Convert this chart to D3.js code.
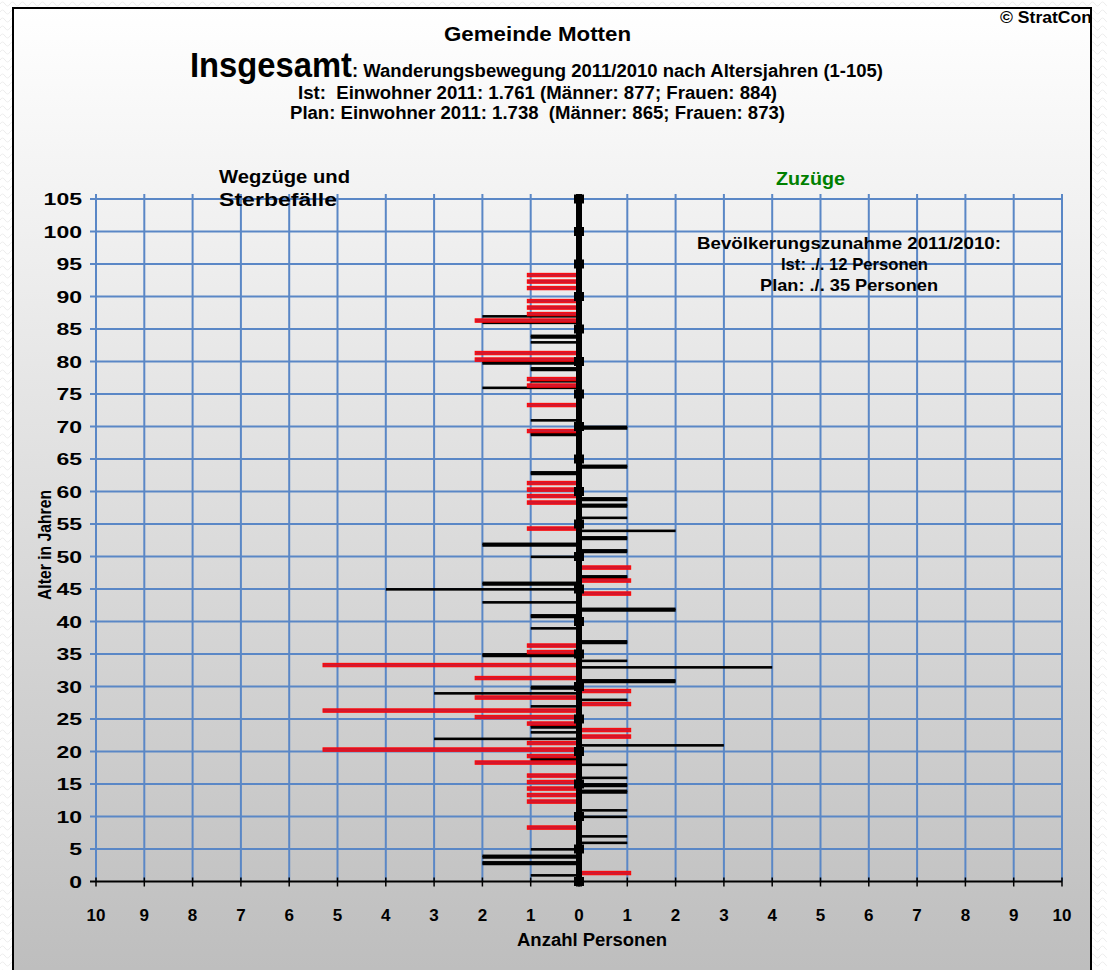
<!DOCTYPE html>
<html><head><meta charset="utf-8">
<script src="https://cdn.jsdelivr.net/npm/d3@7"></script>
<style>
html,body{margin:0;padding:0;background:#fff;}
svg{display:block;font-family:"Liberation Sans",Arial,sans-serif;font-weight:bold;}
text{white-space:pre;}
</style></head>
<body><svg id="chart" width="1107" height="970"></svg>
<script>
// ---------- DATA ----------
const ageTicks = d3.range(0, 106, 5);            // 0 … 105
const personTicks = d3.range(-10, 11, 1);        // -10 … 10 (shown as absolute values)

// Ist (black): first sub-series
const istAges   = [87,86,84,83,80,79,77,76,71,70,69,64,63,59,58,56,54,53,52,51,50,47,46,45,43,42,41,39,37,35,34,33,31,30,29,28,27,24,23,22,21,19,18,16,15,14,11,10,7,6,5,4,3,1];
const istValues = [-2,-2,-1,-1,-2,-1,-1,-2,-1,1,-1,1,-1,1,1,1,2,1,-2,1,-1,1,-2,-4,-2,2,-1,-1,1,-2,1,4,2,-1,-3,1,-1,-1,-1,-3,3,-1,1,1,1,1,1,1,1,1,-1,-2,-2,-1];
// Ist (black): second, overlapping sub-series
const ist2Ages   = [84,80,79,70,69,64,63,59,58,53,52,51,47,46,42,41,37,35,31,30,24,19,15,14,4,3];
const ist2Values = [-1,-2,-1,1,-1,1,-1,1,1,1,-2,1,1,-2,2,-1,1,-2,2,-1,-1,-1,1,1,-2,-2];
// Plan (red)
const planAges   = [93,92,91,89,88,87,86,81,80,77,76,73,69,61,60,59,58,54,48,46,44,36,35,33,31,29,28,27,26,25,24,23,22,21,20,19,18,16,15,14,13,12,8,1];
const planValues = [-1.07,-1.07,-1.07,-1.07,-1.07,-1.07,-2.15,-2.15,-2.15,-1.07,
                    -1.07,-1.07,-1.07,-1.07,-1.07,-1.07,-1.07,-1.07,1.07,1.07,
                    1.07,-1.07,-1.07,-5.3,-2.15,1.07,-2.15,1.07,-5.3,-2.15,
                    -1.07,1.07,1.07,-1.07,-5.3,-1.07,-2.15,-1.07,-1.07,-1.07,
                    -1.07,-1.07,-1.07,1.07];

const titleTop   = "Gemeinde Motten";
const titleBig   = "Insgesamt";
const titleRest  = ": Wanderungsbewegung 2011/2010 nach Altersjahren (1-105)";
const lineIst    = "Ist:  Einwohner 2011: 1.761 (Männer: 877; Frauen: 884)";
const linePlan   = "Plan: Einwohner 2011: 1.738  (Männer: 865; Frauen: 873)";
const copyright  = "© StratCon";
const leftLabel  = ["Wegzüge und", "Sterbefälle"];
const rightLabel = "Zuzüge";
const infoLines  = ["Bevölkerungszunahme 2011/2010:", "Ist: ./. 12 Personen", "Plan: ./. 35 Personen"];
const yTitle = "Alter in Jahren";
const xTitle = "Anzahl Personen";

// ---------- DRAW ----------
const svg = d3.select("#chart");
const x = d3.scaleLinear().domain([-10, 10]).range([96, 1062]);
const y = d3.scaleLinear().domain([0, 105]).range([881.5, 199]);
const gridColor = "#5a87c6";

const defs = svg.append("defs");
const grad = defs.append("linearGradient").attr("id","bg").attr("x1",0).attr("y1",0).attr("x2",0).attr("y2",1);
grad.append("stop").attr("offset","0%").attr("stop-color","#ffffff");
grad.append("stop").attr("offset","100%").attr("stop-color","#bdbdbd");

// outer faint pattern
const pat = defs.append("pattern").attr("id","wav").attr("width",10).attr("height",8).attr("patternUnits","userSpaceOnUse");
pat.append("path").attr("d","M0,4 Q2.5,0 5,4 T10,4").attr("fill","none").attr("stroke","#ececec").attr("stroke-width",1);
svg.append("rect").attr("width",1107).attr("height",970).attr("fill","url(#wav)");

svg.append("rect").attr("x",13).attr("y",8).attr("width",1078).attr("height",975)
  .attr("fill","url(#bg)").attr("stroke","#000").attr("stroke-width",2);

// grid
const g = svg.append("g");
g.selectAll(".vg").data(personTicks).join("line")
  .attr("x1", d => x(d)).attr("x2", d => x(d)).attr("y1", y(105) - 5).attr("y2", y(0))
  .attr("stroke", gridColor).attr("stroke-width", 2);
g.selectAll(".hg").data(ageTicks.filter(d => d > 0)).join("line")
  .attr("x1", x(-10) - 6).attr("x2", x(10)).attr("y1", d => y(d)).attr("y2", d => y(d))
  .attr("stroke", gridColor).attr("stroke-width", 2);

// x axis line with ticks
g.append("line").attr("x1", x(-10) - 6).attr("x2", x(10)).attr("y1", y(0)).attr("y2", y(0))
  .attr("stroke","#000").attr("stroke-width",2);
g.selectAll(".xt").data(personTicks).join("line")
  .attr("x1", d => x(d)).attr("x2", d => x(d)).attr("y1", y(0) - 4).attr("y2", y(0) + 5)
  .attr("stroke","#000").attr("stroke-width",1.5);

// bars: Ist
const bars = svg.append("g");
const ist = istAges.map((a,i) => ({a, v: istValues[i]}));
const ist2 = ist2Ages.map((a,i) => ({a, v: ist2Values[i]}));
const plan = planAges.map((a,i) => ({a, v: planValues[i]}));

bars.selectAll(".i1").data(ist).join("rect")
  .attr("x", d => Math.min(x(0), x(d.v))).attr("width", d => Math.abs(x(d.v) - x(0)))
  .attr("y", d => y(d.a - 0.1) - 1.6).attr("height", 2.6).attr("fill", "#000");
bars.selectAll(".i2").data(ist2).join("rect")
  .attr("x", d => Math.min(x(0), x(d.v))).attr("width", d => Math.abs(x(d.v) - x(0)))
  .attr("y", d => y(d.a - 0.1) - 0.2).attr("height", 2.8).attr("fill", "#000");

// bars: Plan
bars.selectAll(".p").data(plan).join("rect")
  .attr("x", d => Math.min(x(0), x(d.v))).attr("width", d => Math.abs(x(d.v) - x(0)))
  .attr("y", d => y(d.a + 0.3) - 1.7).attr("height", 3.4)
  .attr("fill", "#d01830").attr("stroke", "#ff0000").attr("stroke-width", 1);

// central axis
svg.append("rect").attr("x", x(0) - 3).attr("y", y(105) - 5).attr("width", 6).attr("height", y(0) - y(105) + 10).attr("fill","#000");
svg.selectAll(".mk").data(ageTicks).join("rect")
  .attr("x", x(0) - 5).attr("y", d => y(d) - 4.5).attr("width", 10).attr("height", 9).attr("fill","#000");

// y labels
svg.selectAll(".yl").data(ageTicks).join("text")
  .attr("x", 82).attr("y", d => y(d) + 6).attr("text-anchor","end")
  .attr("font-size", 17).attr("textLength", d => String(d).length * 12.8).attr("lengthAdjust","spacingAndGlyphs")
  .text(d => d);
// x labels
svg.selectAll(".xl").data(personTicks).join("text")
  .attr("x", d => x(d)).attr("y", 921).attr("text-anchor","middle").attr("font-size", 17)
  .text(d => Math.abs(d));

function txt(s, xx, yy, size, len, opts = {}) {
  const t = svg.append("text").attr("x", xx).attr("y", yy).attr("font-size", size)
    .attr("textLength", len).attr("lengthAdjust","spacingAndGlyphs").text(s);
  if (opts.fill) t.attr("fill", opts.fill);
  return t;
}
txt(titleTop, 444, 41, 21, 187);
txt(titleBig, 190, 77, 35, 162);
txt(titleRest, 352, 77, 17.5, 531);
txt(lineIst, 298, 99, 17.5, 479);
txt(linePlan, 290, 119, 17.5, 495);
txt(copyright, 1000, 23, 16, 92);
txt(leftLabel[0], 219, 183, 18, 131);
txt(leftLabel[1], 219, 206, 18, 118);
txt(rightLabel, 776, 185, 18, 69, {fill: "#008000"});
txt(infoLines[0], 697, 249, 16.5, 304);
txt(infoLines[1], 781, 270, 16.5, 147);
txt(infoLines[2], 760, 291, 16.5, 178);
txt(xTitle, 517, 946, 17.5, 150);
svg.append("text").attr("transform","translate(51,600) rotate(-90)").attr("font-size",17.5)
  .attr("textLength",110).attr("lengthAdjust","spacingAndGlyphs").text(yTitle);
</script></body></html>
